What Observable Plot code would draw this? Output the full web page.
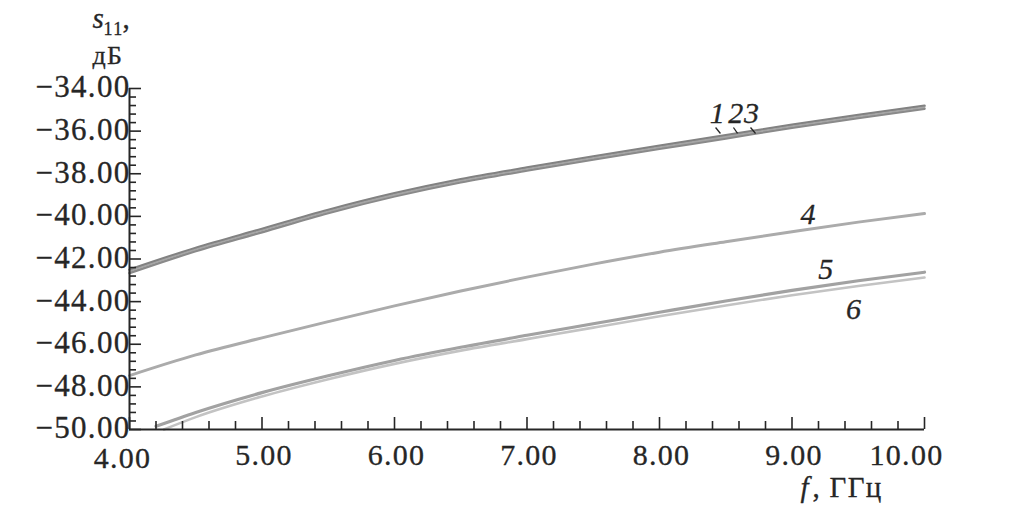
<!DOCTYPE html>
<html>
<head>
<meta charset="utf-8">
<script src="https://cdn.jsdelivr.net/npm/d3@7"></script>
<script src="https://cdn.jsdelivr.net/npm/@observablehq/plot@0.6"></script>
<style>
  html, body { margin: 0; padding: 0; background: #fff; }
  #chart svg { display: block; }
  #chart svg, #chart svg text { font-family: "Liberation Serif", "Times New Roman", Times, serif !important; }
  #chart svg text { letter-spacing: 1.3px; }
</style>
</head>
<body>
<div id="chart"></div>
<script>
// ---- data ----
const freq  = [4.0, 4.5, 5.0, 5.5, 6.0, 6.5, 7.0, 7.5, 8.0, 8.5, 9.0, 9.5, 10.0];
const s11_1 = [-42.50, -41.48, -40.59, -39.70, -38.92, -38.26, -37.71, -37.19, -36.69, -36.20, -35.70, -35.24, -34.81];
const s11_2 = [-42.58, -41.55, -40.66, -39.77, -38.99, -38.33, -37.78, -37.26, -36.76, -36.27, -35.77, -35.31, -34.88];
const s11_3 = [-42.66, -41.63, -40.74, -39.84, -39.06, -38.40, -37.85, -37.33, -36.83, -36.34, -35.84, -35.38, -34.95];
const s11_4 = [-47.47, -46.50, -45.70, -44.94, -44.20, -43.50, -42.85, -42.24, -41.68, -41.19, -40.72, -40.27, -39.87];
const freq5 = [4.2, 4.5, 5.0, 5.5, 6.0, 6.5, 7.0, 7.5, 8.0, 8.5, 9.0, 9.5, 10.0];
const s11_5 = [-49.85, -49.20, -48.27, -47.48, -46.76, -46.14, -45.58, -45.04, -44.50, -43.97, -43.47, -43.02, -42.62];
const freq6 = [4.26, 4.5, 5.0, 5.5, 6.0, 6.5, 7.0, 7.5, 8.0, 8.5, 9.0, 9.5, 10.0];
const s11_6 = [-50.00, -49.42, -48.45, -47.64, -46.92, -46.30, -45.76, -45.22, -44.69, -44.18, -43.70, -43.27, -42.87];

const xTicksMajor = [4, 5, 6, 7, 8, 9, 10];
const xTicksMinor = d3.range(4, 10.001, 0.2).map(v => +v.toFixed(1)).filter(v => !xTicksMajor.includes(v));
const yTicksMajor = [-50, -48, -46, -44, -42, -40, -38, -36, -34];
const yTicksMinor = d3.range(-50, -33.999, 0.4).map(v => +v.toFixed(1)).filter(v => !yTicksMajor.includes(v));

const seriesLabels = [
  {text: "1", x: 8.44, y: -35.16},
  {text: "2", x: 8.58, y: -35.16},
  {text: "3", x: 8.70, y: -35.16},
  {text: "4", x: 9.125, y: -39.90},
  {text: "5", x: 9.26, y: -42.48},
  {text: "6", x: 9.47, y: -44.36}
];
const leaders = [
  {x1: 8.423, y1: -35.83, x2: 8.460, y2: -36.11},
  {x1: 8.558, y1: -35.83, x2: 8.589, y2: -36.11},
  {x1: 8.687, y1: -35.83, x2: 8.725, y2: -36.11}
];

// ---- build tables ----
const toRows = (xs, ys) => xs.map((x, i) => ({x, y: ys[i]}));
const fmt = v => (v < 0 ? "\u2212" : "") + Math.abs(v).toFixed(2);

const serif = "Liberation Serif";
const ink = "#262626";
const W = 1010, H = 511;
const mL = 129, mR = 86, mT = 88, mB = 82;
const pxY = (H - mT - mB) / 16;   // px per dB
const pxX = (W - mL - mR) / 6;    // px per GHz
const lbl = {fill: ink, stroke: ink, strokeWidth: 0.3};

const chart = Plot.plot({
  width: W, height: H,
  marginLeft: mL, marginRight: mR, marginTop: mT, marginBottom: mB,
  x: {domain: [4, 10], axis: null},
  y: {domain: [-50, -34], axis: null},
  style: {fontFamily: serif, color: ink, background: "#fff"},
  marks: [
    // curves
    Plot.line(toRows(freq, s11_4), {x: "x", y: "y", stroke: "#ababab", strokeWidth: 3, curve: "monotone-x"}),
    Plot.line(toRows(freq6, s11_6), {x: "x", y: "y", stroke: "#c3c3c3", strokeWidth: 2.6, curve: "monotone-x"}),
    Plot.line(toRows(freq5, s11_5), {x: "x", y: "y", stroke: "#a2a2a2", strokeWidth: 3.2, curve: "monotone-x"}),
    Plot.line(toRows(freq, s11_3), {x: "x", y: "y", stroke: "#8a8a8a", strokeWidth: 2.6, curve: "monotone-x"}),
    Plot.line(toRows(freq, s11_1), {x: "x", y: "y", stroke: "#828282", strokeWidth: 2.6, curve: "monotone-x"}),
    Plot.line(toRows(freq, s11_2), {x: "x", y: "y", stroke: "#a5a5a5", strokeWidth: 1.6, curve: "monotone-x"}),
    // axis lines
    Plot.ruleY([-50], {x1: 4, x2: 10, stroke: ink, strokeWidth: 2}),
    Plot.ruleX([4], {y1: -50, y2: -34, stroke: ink, strokeWidth: 2}),
    // ticks (inward)
    Plot.ruleX(xTicksMajor, {x: d => d, y1: -50, y2: -50 + 12 / pxY, stroke: ink, strokeWidth: 1.6}),
    Plot.ruleX(xTicksMinor, {x: d => d, y1: -50, y2: -50 + 8 / pxY, stroke: ink, strokeWidth: 1.6}),
    Plot.ruleY(yTicksMajor, {y: d => d, x1: 4, x2: 4 + 12 / pxX, stroke: ink, strokeWidth: 1.6}),
    Plot.ruleY(yTicksMinor, {y: d => d, x1: 4, x2: 4 + 7 / pxX, stroke: ink, strokeWidth: 1.6}),
    // tick labels
    Plot.text(yTicksMajor, {x: 4, y: d => d, text: fmt, textAnchor: "end", dx: 1, dy: -1, fontSize: 31, ...lbl}),
    Plot.text(xTicksMajor.filter(d => d > 4 && d < 10), {x: d => d, y: -50, text: fmt, dy: 26, dx: 2, fontSize: 30, ...lbl}),
    Plot.text([4], {x: d => d, y: -50, text: fmt, dy: 29, dx: -7, fontSize: 30, ...lbl}),
    Plot.text([10], {x: d => d, y: -50, text: fmt, dy: 26, dx: -18, fontSize: 30, ...lbl}),
    // axis titles
    Plot.text(["s"], {x: 4, y: -34, text: d => d, textAnchor: "start", dx: -37, dy: -70, fontSize: 29, fontStyle: "italic", ...lbl}),
    Plot.text(["11"], {x: 4, y: -34, text: d => d, textAnchor: "start", dx: -26, dy: -59, fontSize: 18, ...lbl}),
    Plot.text([","], {x: 4, y: -34, text: d => d, textAnchor: "start", dx: -7, dy: -70, fontSize: 29, ...lbl}),
    Plot.text(["дБ"], {x: 4, y: -34, text: d => d, textAnchor: "start", dx: -37, dy: -33, fontSize: 26, ...lbl}),
    Plot.text(["f"], {x: 10, y: -50, text: d => d, textAnchor: "start", dx: -124, dy: 58, fontSize: 29, fontStyle: "italic", ...lbl}),
    Plot.text([", ГГц"], {x: 10, y: -50, text: d => d, textAnchor: "start", dx: -112, dy: 58, fontSize: 29, ...lbl}),
    // series labels and leaders
    Plot.text(seriesLabels, {x: "x", y: "y", text: "text", fontSize: 30, fontStyle: "italic", ...lbl}),
    Plot.link(leaders, {x1: "x1", y1: "y1", x2: "x2", y2: "y2", stroke: ink, strokeWidth: 1.3})
  ]
});
document.getElementById("chart").appendChild(chart);
</script>
</body>
</html>
